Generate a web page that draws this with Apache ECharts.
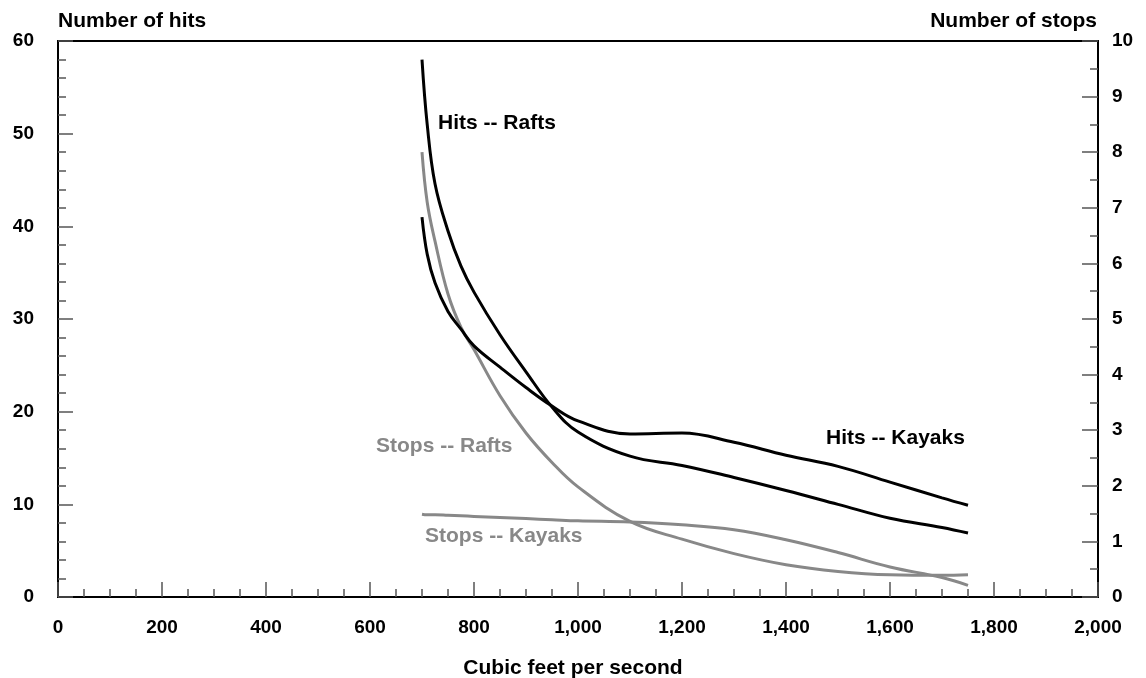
<!DOCTYPE html>
<html>
<head>
<meta charset="utf-8">
<script src="https://cdn.jsdelivr.net/npm/echarts@6/dist/echarts.min.js"></script>
<style>
  html, body { margin: 0; padding: 0; background: #fff; }
  #chart { width: 1146px; height: 678px; }
</style>
</head>
<body>
<div id="chart"></div>
<script>
// flow values (cubic feet per second) shared by all four curves
var flows = [700, 710, 725, 750, 775, 800, 850, 900, 950, 1000, 1100, 1200, 1300, 1400, 1500, 1600, 1700, 1750]

// left axis (hits)
var hitsRafts  = [58.0, 51.0, 44.6, 39.5, 35.7, 32.9, 28.3, 24.3, 20.5, 17.8, 15.2, 14.2, 12.9, 11.5, 10.0, 8.5, 7.5, 6.9]
var hitsKayaks = [41.0, 37.0, 33.9, 30.8, 28.9, 27.1, 24.8, 22.6, 20.6, 19.0, 17.6, 17.7, 16.7, 15.3, 14.1, 12.4, 10.7, 9.9]

// right axis (stops)
var stopsRafts  = [8.0, 7.1, 6.4, 5.45, 4.85, 4.45, 3.62, 2.95, 2.42, 1.98, 1.36, 1.04, 0.78, 0.58, 0.46, 0.40, 0.39, 0.40]
var stopsKayaks = [1.49, 1.48, 1.48, 1.47, 1.46, 1.45, 1.43, 1.41, 1.39, 1.37, 1.35, 1.30, 1.21, 1.03, 0.80, 0.54, 0.35, 0.21]

var font = 'Liberation Sans, Arial, sans-serif'
var gray = '#888'

function pairs(vals) {
  return flows.map(function (f, i) { return [f, vals[i]] })
}

function curve(name, vals, color, axis) {
  return {
    name: name,
    type: 'line',
    yAxisIndex: axis,
    data: pairs(vals),
    smooth: 0.4,
    showSymbol: false,
    silent: true,
    lineStyle: { color: color, width: 3 },
    z: color === '#000' ? 3 : 2
  }
}

function label(text, x, y, color, align) {
  return {
    type: 'text', x: x, y: y,
    style: { text: text, fill: color, font: 'bold 21px ' + font,
      textAlign: align || 'left', textVerticalAlign: 'middle' }
  }
}

var tickStyle = { color: '#555', width: 1.5 }
var tickLabel = { color: '#000', fontFamily: font, fontWeight: 'bold', fontSize: 19 }

var chart = echarts.init(document.getElementById('chart'), null, { renderer: 'canvas' })

chart.setOption({
  animation: false,
  backgroundColor: '#fff',
  grid: {
    left: 58, right: 48, top: 41, bottom: 81,
    show: true, borderColor: '#000', borderWidth: 2
  },
  xAxis: {
    type: 'value',
    min: 0, max: 2000, interval: 200,
    axisLine: { show: true, lineStyle: { color: '#000', width: 2 } },
    axisTick: { show: true, inside: true, length: 15, lineStyle: tickStyle },
    minorTick: { show: true, splitNumber: 4, length: 8, lineStyle: tickStyle },
    splitLine: { show: false },
    axisLabel: Object.assign({ margin: 21,
      formatter: function (v) { return v.toLocaleString('en-US') } }, tickLabel)
  },
  yAxis: [
    {
      type: 'value', position: 'left',
      min: 0, max: 60, interval: 10,
      axisLine: { show: true, lineStyle: { color: '#000', width: 2 } },
      axisTick: { show: true, inside: true, length: 15, lineStyle: tickStyle },
      minorTick: { show: true, splitNumber: 5, length: 8, lineStyle: tickStyle },
      splitLine: { show: false },
      axisLabel: Object.assign({ margin: 24 }, tickLabel)
    },
    {
      type: 'value', position: 'right',
      min: 0, max: 10, interval: 1,
      axisLine: { show: true, lineStyle: { color: '#000', width: 2 } },
      axisTick: { show: true, inside: true, length: 16, lineStyle: tickStyle },
      minorTick: { show: true, splitNumber: 2, length: 8, lineStyle: tickStyle },
      splitLine: { show: false },
      axisLabel: Object.assign({ margin: 14 }, tickLabel)
    }
  ],
  series: [
    curve('Stops -- Rafts', stopsRafts, gray, 1),
    curve('Stops -- Kayaks', stopsKayaks, gray, 1),
    curve('Hits -- Rafts', hitsRafts, '#000', 0),
    curve('Hits -- Kayaks', hitsKayaks, '#000', 0)
  ],
  graphic: [
    label('Number of hits', 58, 21, '#000'),
    label('Number of stops', 1097, 21, '#000', 'right'),
    label('Cubic feet per second', 573, 668, '#000', 'center'),
    label('Hits -- Rafts', 438, 123, '#000'),
    label('Hits -- Kayaks', 826, 438, '#000'),
    label('Stops -- Rafts', 376, 446, gray),
    label('Stops -- Kayaks', 425, 536, gray)
  ]
})
</script>
</body>
</html>
